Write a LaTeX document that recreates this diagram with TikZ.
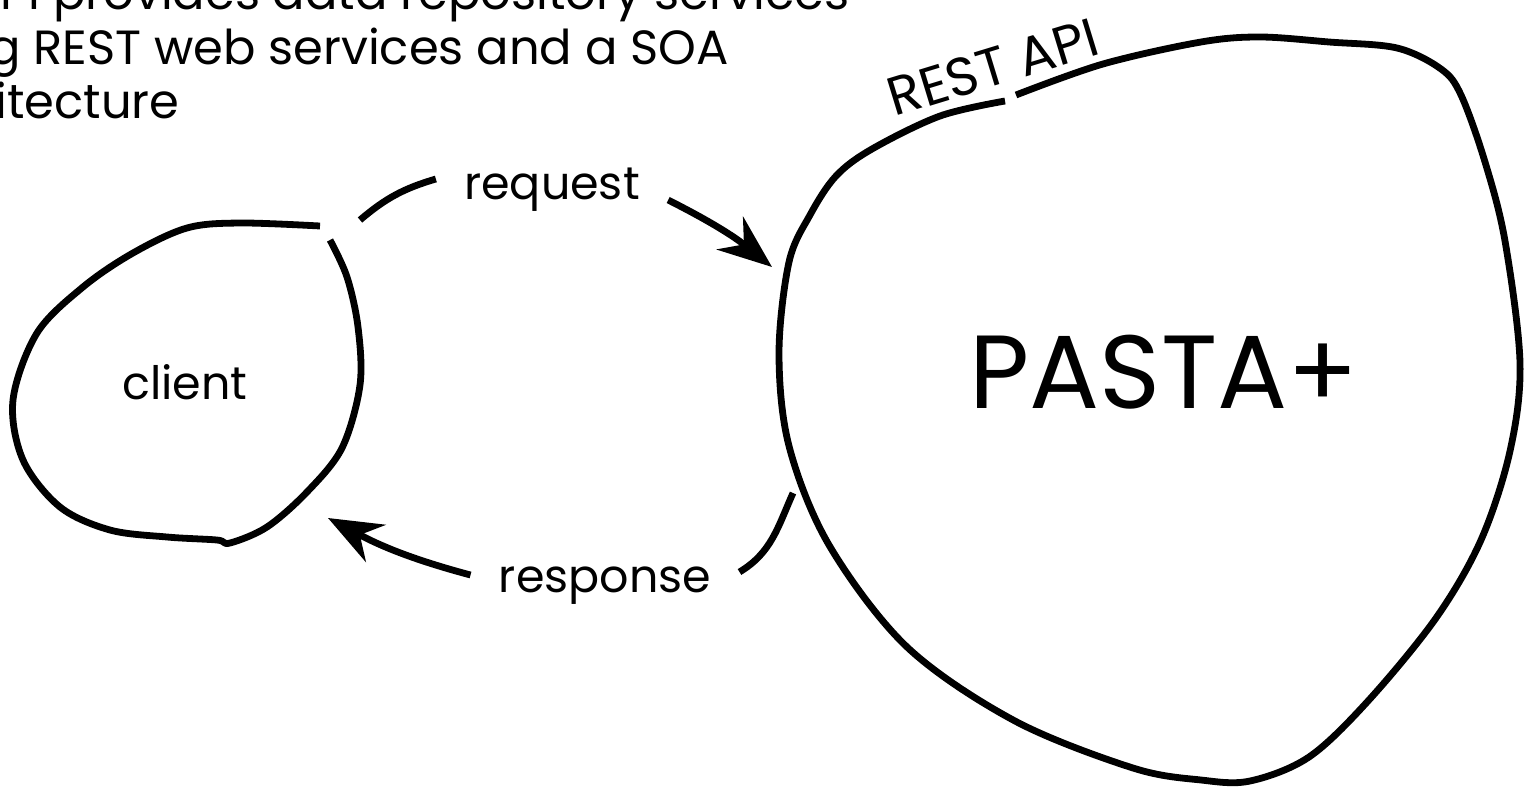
\documentclass[tikz,border=0pt]{standalone}
\usepackage{fontspec}
\setmainfont{Poppins}
\usetikzlibrary{arrows.meta}
\tikzset{
  sketch/.style={line width=3.4pt, line join=round},
  flow/.style={sketch, -{Stealth[length=27pt,width=21pt,inset=9pt]}},
  lbl/.style={font=\fontsize{23}{27}\selectfont, inner xsep=14pt, inner ysep=4pt},
  note/.style={font=\fontsize{24}{27}\selectfont, anchor=base east, inner sep=0pt},
}

\begin{document}
\begin{tikzpicture}[x=0.5pt, y=-0.5pt]
    \useasboundingbox (0, 0) rectangle (1524, 787);
    \clip (0, 0) rectangle (1524, 787);
    \path (850, 10) node [note] (line1) {API provides data repository services};
    \path (729, 64) node [note] (line2) {using REST web services and a SOA};
    \path (180, 118) node [note] (line3) {architecture};
    \draw [sketch] plot [smooth, tension=0.55] coordinates {(330, 240) (347, 277) (358, 327) (360, 385) (342, 448) (307, 492) (267, 527) (230, 543) (217, 540) (167, 537) (110, 530) (60, 507) (23, 460) (13, 400) (37, 333) (83, 287) (133, 253) (187, 228) (240, 223) (320, 226)};
    \draw [sketch] plot [smooth, tension=0.55] coordinates {(1016, 95) (1103, 64) (1201, 42) (1260, 37) (1329, 42) (1397, 48) (1441, 69) (1461, 95) (1485, 162) (1505, 241) (1520, 363) (1510, 451) (1481, 540) (1436, 618) (1368, 701) (1309, 757) (1250, 781) (1201, 780) (1133, 768) (1015, 721) (907, 647) (829, 545) (789, 446) (779, 353) (789, 262) (810, 215) (836, 176) (872, 149) (940, 116) (1005, 101)};
    \path (185, 382) node [lbl] (client) {client};
    \path (1164, 372) node [font=\fontsize{52}{56}\selectfont] (pasta) {PASTA+};
    \path (993, 67) node [font=\fontsize{27}{30}\selectfont, rotate=17, inner sep=1pt] (api) {REST API};
    \path (552, 190) node [lbl] (req) {request};
    \path (605, 586) node [lbl] (resp) {response};
    \coordinate (reqa) at (360, 220);
    \coordinate (reqb) at (772, 267);
    \coordinate (resa) at (793, 493);
    \coordinate (resb) at (328, 518);
    \draw [sketch] (reqa) to[bend left=12] ([yshift=5.5pt]req.west);
    \draw [flow] ([yshift=-5pt]req.east) to[bend left=6] (reqb);
    \draw [sketch] (resa) to[out=246, in=31] ([yshift=7pt]resp.east);
    \draw [flow] ([yshift=5.5pt]resp.west) to[out=165, in=-28] (resb);
\end{tikzpicture}
\end{document}
